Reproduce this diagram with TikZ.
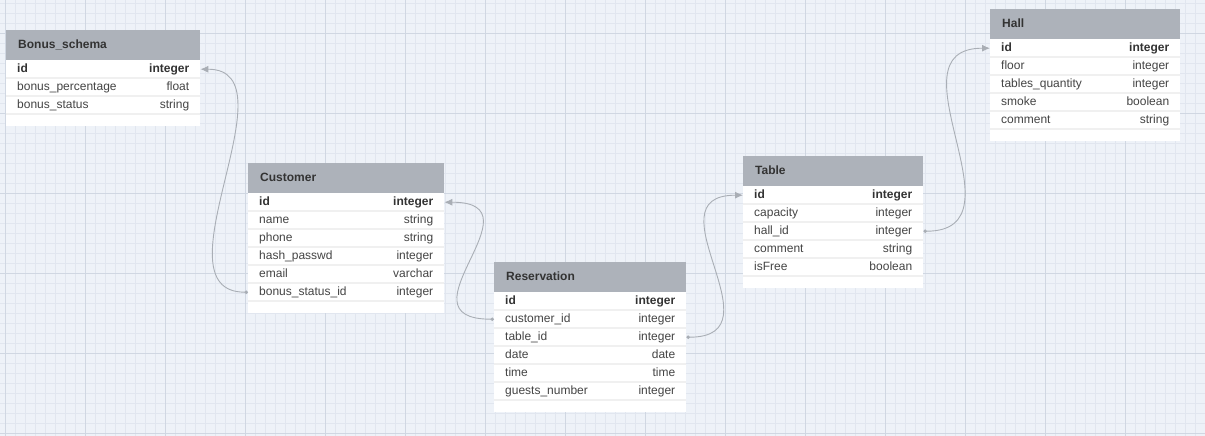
\documentclass[tikz,border=0pt]{standalone}
\usepackage{fontspec}
\setmainfont{Liberation Sans}
\usetikzlibrary{arrows.meta}

\definecolor{bgblue}{HTML}{EEF2F8}
\definecolor{minorline}{HTML}{E1E6EF}
\definecolor{majorline}{HTML}{D0D7E2}
\definecolor{headgrey}{HTML}{ADB2BA}
\definecolor{headtext}{HTML}{333333}
\definecolor{textgrey}{HTML}{444444}
\definecolor{sepgrey}{HTML}{F0F0F0}
\definecolor{linkgrey}{HTML}{A9AEB5}

\begin{document}
\begin{tikzpicture}[x=1pt, y=-1pt,
	head/.style={anchor=north west, fill=headgrey, minimum height=30pt, inner xsep=12pt, inner ysep=0pt, text height=9pt, text depth=3pt, align=left, font=\fontsize{12}{14}\selectfont\bfseries, text=headtext},
	row/.style={anchor=north west, minimum height=18pt, inner xsep=11pt, inner ysep=0pt, text height=9pt, text depth=3pt, align=left, font=\fontsize{12}{14}\selectfont, text=textgrey, path picture={\draw[sepgrey, line width=1.5pt] (path picture bounding box.south west) -- (path picture bounding box.south east);}},
	link/.style={linkgrey, line width=0.9pt, arrows={Circle[length=3.5pt]-Latex[length=8pt, width=7pt]}}]
	
	\useasboundingbox (0,0) rectangle (1205,436);
	
	% grid
	\fill[bgblue] (0,0) rectangle (1205,436);
	\foreach \x in {5,15,...,1205} \draw[minorline, line width=0.6pt] (\x,0) -- (\x,436);
	\foreach \y in {3,13,...,433} \draw[minorline, line width=0.6pt] (0,\y) -- (1205,\y);
	\foreach \x in {5,85,...,1205} \draw[majorline, line width=0.7pt] (\x,0) -- (\x,436);
	\foreach \y in {33,113,...,433} \draw[majorline, line width=0.7pt] (0,\y) -- (1205,\y);
	
	% Bonus_schema
	\node[head, text width=170pt] (bonus) at (6,30) {Bonus\_schema};
	\fill[white] (6,60) rectangle (200,126);
	\foreach \n/\t [count=\i] in {id/integer, bonus\_percentage/float, bonus\_status/string}
		\node[row, text width=172pt] (bonus-\i) at (6,42+18*\i) {\ifnum\i=1 \bfseries\color{headtext}\fi\n\hfill\t};
	
	% Customer
	\node[head, text width=172pt] (cust) at (248,163) {Customer};
	\fill[white] (248,193) rectangle (444,313);
	\foreach \n/\t [count=\i] in {id/integer, name/string, phone/string, hash\_passwd/integer, email/varchar, bonus\_status\_id/integer}
		\node[row, text width=174pt] (cust-\i) at (248,175+18*\i) {\ifnum\i=1 \bfseries\color{headtext}\fi\n\hfill\t};
	
	% Reservation
	\node[head, text width=168pt] (resv) at (494,262) {Reservation};
	\fill[white] (494,292) rectangle (686,412);
	\foreach \n/\t [count=\i] in {id/integer, customer\_id/integer, table\_id/integer, date/date, time/time, guests\_number/integer}
		\node[row, text width=170pt] (resv-\i) at (494,274+18*\i) {\ifnum\i=1 \bfseries\color{headtext}\fi\n\hfill\t};
	
	% Table
	\node[head, text width=156pt] (tab) at (743,156) {Table};
	\fill[white] (743,186) rectangle (923,288);
	\foreach \n/\t [count=\i] in {id/integer, capacity/integer, hall\_id/integer, comment/string, isFree/boolean}
		\node[row, text width=158pt] (tab-\i) at (743,168+18*\i) {\ifnum\i=1 \bfseries\color{headtext}\fi\n\hfill\t};
	
	% Hall
	\node[head, text width=166pt] (hall) at (990,9) {Hall};
	\fill[white] (990,39) rectangle (1180,141);
	\foreach \n/\t [count=\i] in {id/integer, floor/integer, tables\_quantity/integer, smoke/boolean, comment/string}
		\node[row, text width=168pt] (hall-\i) at (990,21+18*\i) {\ifnum\i=1 \bfseries\color{headtext}\fi\n\hfill\t};
	
	\path[link] (cust-6.west) edge[out=180, in=0, distance=96pt] (bonus-1.east);
	\path[link] (resv-2.west) edge[out=180, in=0, distance=100pt] (cust-1.east);
	\path[link] (resv-3.east) edge[out=0, in=180, distance=96pt] (tab-1.west);
	\path[link] (tab-3.east) edge[out=0, in=180, distance=105pt] (hall-1.west);
	
\end{tikzpicture}
\end{document}
